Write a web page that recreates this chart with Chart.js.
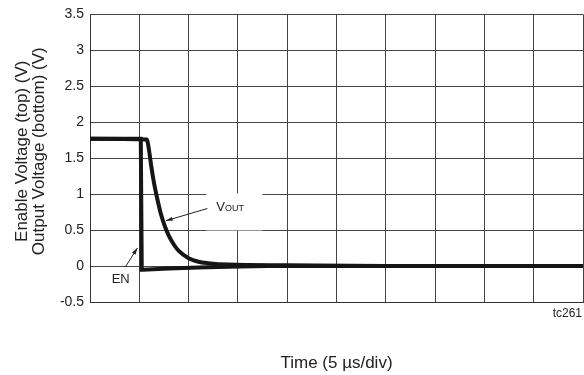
<!DOCTYPE html>
<html>
<head>
<meta charset="utf-8">
<script src="https://cdn.jsdelivr.net/npm/chart.js@4.4.1/dist/chart.umd.min.js"></script>
<style>
  html, body { margin: 0; padding: 0; background: #fff; }
  #wrap { width: 584px; height: 375px; }
</style>
</head>
<body>
<div id="wrap"><canvas id="myChart"></canvas></div>
<script>
// time in microseconds, voltages in V
let enTime  = [0, 5.15, 5.25, 5.35, 8, 11, 14, 18, 25, 35, 50];
let enVolts = [1.77, 1.77, -0.05, -0.05, -0.035, -0.02, -0.01, 0.0, 0.0, 0.0, 0.0];

let voutTime  = [0, 5.75, 6.0, 6.2, 6.5, 6.8, 7.2, 7.6, 8.0, 8.5, 9.0, 10, 11, 12, 14, 20, 30, 40, 50];
let voutVolts = [1.77, 1.76, 1.6, 1.4, 1.15, 0.95, 0.72, 0.55, 0.42, 0.3, 0.21, 0.11, 0.06, 0.04, 0.02, 0.01, 0.0, 0.0, 0.0];

let yTicks = [-0.5, 0, 0.5, 1, 1.5, 2, 2.5, 3, 3.5];
let yTickLabels = ['-0.5', '0', '0.5', '1', '1.5', '2', '2.5', '3', '3.5'];

let fontFam = "'Liberation Sans', Arial, sans-serif";

function toPoints(xs, ys) {
	return xs.map(function (x, i) { return { x: x, y: ys[i] }; });
}

function arrow(ctx, x1, y1, x2, y2) {
	let a = Math.atan2(y2 - y1, x2 - x1);
	ctx.beginPath();
	ctx.moveTo(x1, y1);
	ctx.lineTo(x2, y2);
	ctx.stroke();
	ctx.beginPath();
	ctx.moveTo(x2, y2);
	ctx.lineTo(x2 - 7 * Math.cos(a - 0.3), y2 - 7 * Math.sin(a - 0.3));
	ctx.lineTo(x2 - 7 * Math.cos(a + 0.3), y2 - 7 * Math.sin(a + 0.3));
	ctx.closePath();
	ctx.fill();
}

// labels, arrows and titles
let notes = {
	id: 'notes',
	beforeDatasetsDraw: function (chart) {
		let ctx = chart.ctx;
		let xs = chart.scales.x, ys = chart.scales.y;
		// white patch behind VOUT
		ctx.save();
		ctx.fillStyle = '#fff';
		ctx.fillRect(xs.getPixelForValue(11.8), ys.getPixelForValue(1.01), 56, 37);
		ctx.restore();
	},
	afterDraw: function (chart) {
		let ctx = chart.ctx;
		let xs = chart.scales.x, ys = chart.scales.y;
		let area = chart.chartArea;
		ctx.save();
		ctx.fillStyle = '#222';
		ctx.strokeStyle = '#222';
		ctx.lineWidth = 1;

		// VOUT
		let vx = xs.getPixelForValue(12.8), vy = ys.getPixelForValue(0.76);
		ctx.textBaseline = 'alphabetic';
		ctx.textAlign = 'left';
		ctx.font = '13px ' + fontFam;
		ctx.fillText('V', vx, vy);
		let w = ctx.measureText('V').width;
		ctx.font = '9px ' + fontFam;
		ctx.fillText('OUT', vx + w, vy);
		arrow(ctx, xs.getPixelForValue(11.9), ys.getPixelForValue(0.8), xs.getPixelForValue(7.7), ys.getPixelForValue(0.63));

		// EN
		ctx.font = '13px ' + fontFam;
		ctx.fillText('EN', xs.getPixelForValue(2.2), ys.getPixelForValue(-0.23));
		arrow(ctx, xs.getPixelForValue(3.6), ys.getPixelForValue(-0.01), xs.getPixelForValue(4.8), ys.getPixelForValue(0.25));

		// tc261
		ctx.font = '12px ' + fontFam;
		ctx.textAlign = 'right';
		ctx.fillText('tc261', 582, area.bottom + 15);

		// x title
		ctx.font = '17px ' + fontFam;
		ctx.textAlign = 'center';
		ctx.fillText('Time (5 \u00b5s/div)', (area.left + area.right) / 2, 368);

		// y title
		ctx.translate(27, (area.top + area.bottom) / 2 - 7);
		ctx.rotate(-Math.PI / 2);
		ctx.fillText('Enable Voltage (top) (V)', 0, 0);
		ctx.fillText('Output Voltage (bottom) (V)', 0, 17);
		ctx.restore();
	}
};

let ctx = document.getElementById('myChart').getContext('2d');

let myChart = new Chart(ctx, {
	type: 'line',
	data: {
		datasets: [{
			label: 'VOUT',
			data: toPoints(voutTime, voutVolts),
			borderColor: '#151515',
			borderWidth: 4,
			pointRadius: 0,
			cubicInterpolationMode: 'monotone'
		}, {
			label: 'EN',
			data: toPoints(enTime, enVolts),
			borderColor: '#151515',
			borderWidth: 4,
			pointRadius: 0,
			borderJoinStyle: 'miter'
		}]
	},
	options: {
		responsive: true,
		maintainAspectRatio: false,
		animation: false,
		layout: { padding: { top: 14, right: 1, left: 0, bottom: 0 } },
		plugins: {
			legend: { display: false },
			tooltip: { enabled: false }
		},
		scales: {
			x: {
				type: 'linear',
				min: 0,
				max: 50,
				ticks: { display: false, stepSize: 5 },
				grid: { color: '#444', lineWidth: 1, drawTicks: false },
				border: { color: '#333', width: 1 },
				afterFit: function (scale) { scale.height = 73; }
			},
			y: {
				min: -0.5,
				max: 3.5,
				afterBuildTicks: function (scale) {
					scale.ticks = yTicks.map(function (v) { return { value: v }; });
				},
				ticks: {
					color: '#222',
					padding: 6,
					font: { family: fontFam, size: 14 },
					callback: function (value) {
						let i = yTicks.indexOf(value);
						return i >= 0 ? yTickLabels[i] : '';
					}
				},
				grid: { color: '#444', lineWidth: 1, drawTicks: false },
				border: { color: '#333', width: 1 },
				afterFit: function (scale) { scale.width = 90; }
			}
		}
	},
	plugins: [notes]
});
</script>
</body>
</html>
